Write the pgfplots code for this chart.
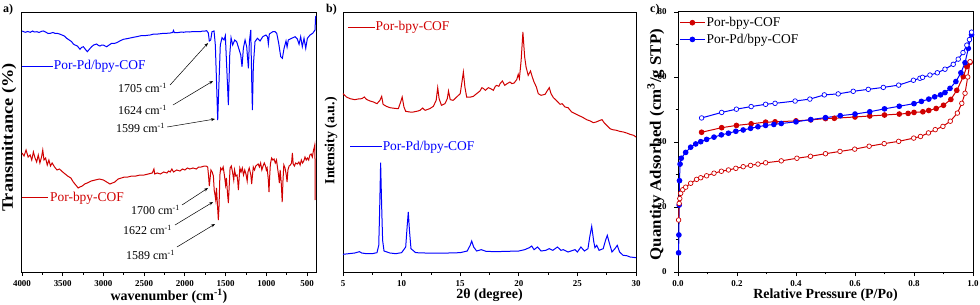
\documentclass[border=0pt]{standalone}
\usepackage{fontspec}
\setmainfont{Liberation Serif}
\usepackage{graphicx}
\usepackage{pgfplots}
\pgfplotsset{compat=1.18}
\usetikzlibrary{arrows.meta}
\definecolor{cred}{RGB}{208,0,0}
\definecolor{cblue}{RGB}{0,0,255}
\pgfplotsset{
  panel/.style={
    scale only axis, anchor=center, height=260bp,
    axis line style={line width=1bp, black},
    tick align=outside, major tick length=4bp, minor tick length=2.5bp,
    tick style={line width=0.8bp, black},
    xtick pos=bottom, ytick pos=left,
    /pgf/number format/assume math mode=true,
    ticklabel style={font=\bfseries\fontsize{9}{10}\selectfont},
    xticklabel style={/pgf/number format/set thousands separator={}, yshift=-3bp, inner sep=1.5bp},
    yticklabel style={xshift=-4bp},
    label style={font=\bfseries\fontsize{14}{16}\selectfont, inner sep=1bp},
    clip=false,
  },
}
\tikzset{
  ann/.style={font=\fontsize{12}{14}\selectfont, inner sep=0pt, anchor=east},
  leg/.style={font=\fontsize{13.5}{15}\selectfont, inner sep=0pt, anchor=west},
  arr/.style={-{Stealth[length=4bp,width=3bp]}, line width=0.5bp, black},
}
\begin{document}
\begin{tikzpicture}[x=1bp,y=1bp]
\useasboundingbox (0bp,0bp) rectangle (980bp,305bp);
\node[anchor=west, inner sep=0pt, font=\bfseries\fontsize{12}{14}\selectfont] at (3bp,295bp) {a)};
\node[anchor=west, inner sep=0pt, font=\bfseries\fontsize{12}{14}\selectfont] at (326bp,295bp) {b)};
\node[anchor=west, inner sep=0pt, font=\bfseries\fontsize{12}{14}\selectfont] at (650bp,295bp) {c)};

% ---------------- panel a ----------------
\begin{axis}[panel, at={(169bp,163bp)}, width=294bp,
  x dir=reverse, xmin=390, xmax=4000, y dir=reverse, ymin=12, ymax=272,
  xtick={500,1000,...,4000}, minor x tick num=1, ytick=\empty,
  xlabel={wavenumber (cm\textsuperscript{-1})},
  xlabel style={at={(axis description cs:0.5,-0.094)}, anchor=center},
  ylabel={\scalebox{1.15}[1]{Transmittance (\%)}},
  ylabel style={at={(axis description cs:-0.044,0.517)}, anchor=center, font=\bfseries\fontsize{16}{18}\selectfont},
]
\addplot[cblue, line width=1bp] coordinates {
(4000,31)(3960,32.3)(3930,31.5)(3898,32.3)(3870,31)(3850,32)(3816,31.7)(3790,32.5)(3760,31.3)(3734,31)
(3700,32.5)(3680,33.5)(3652,33.3)(3620,32.5)(3590,33.5)(3570,33.3)(3540,34)(3509,35)(3480,36)(3451,38.3)
(3420,40)(3390,41.7)(3370,44)(3349,45)(3320,46)(3288,49.3)(3270,47.5)(3247,46.7)(3225,49)(3198,51.7)
(3170,49)(3145,46.7)(3120,45)(3083,44)(3060,45.5)(3042,46)(3020,45)(3001,45)(2980,46)(2960,46.7)
(2930,45)(2899,43.3)(2870,43.5)(2837,42.7)(2800,41)(2755,39.3)(2700,38.5)(2632,37.3)(2580,36.5)(2530,35.5)
(2480,35.5)(2427,35)(2380,34)(2330,34)(2280,33.5)(2222,33.3)(2180,33)(2150,32.5)(2140,30.5)(2130,32.5)
(2080,32.5)(2040,32)(2018,32.3)(1980,31.8)(1940,32)(1900,31.5)(1850,31.5)(1813,31.7)(1780,31)(1750,31)
(1732,30.7)(1712,33)(1700,41)(1683,40)(1667,31.7)(1642,31)(1626,45)(1614,75)(1597,120)(1581,82)
(1565,45)(1544,37.7)(1519,40)(1503,35.7)(1482,75)(1466,105)(1449,55)(1433,37.7)(1413,45)(1388,40)
(1364,41.7)(1339,48.3)(1314,55)(1298,66.7)(1282,48.3)(1261,40)(1241,46.7)(1220,68.3)(1208,41.7)(1191,30)
(1179,81.7)(1171,110)(1159,65)(1139,41.7)(1110,38.3)(1077,41)(1044,36.7)(1004,35)(985,37)(975,44)
(963,34)(921,31.7)(895,31.5)(872,33.3)(848,43.3)(823,56.7)(803,58.3)(782,48.3)(758,41)(745,47)
(730,40)(688,38.3)(647,36.7)(619,39)(598,44.3)(578,36.7)(558,46.7)(537,38.3)(516,48.3)(496,38.3)
(463,35)(430,33.3)(402,30)(395,16.7)(391,16)
};
\addplot[cred, line width=1bp] coordinates {
(4000,153)(3975,156)(3950,150)(3925,157)(3900,155)(3880,160)(3860,152)(3840,158)(3820,162)(3800,155)
(3780,163)(3760,157)(3745,150)(3730,160)(3710,158)(3690,165)(3670,160)(3650,166)(3630,163)(3600,167)
(3570,170)(3540,169)(3500,172)(3470,174)(3440,176)(3400,178)(3370,182)(3340,185)(3310,188)(3290,187)
(3260,186)(3230,184)(3200,183)(3150,181)(3100,180)(3050,179)(3000,180)(2960,182)(2920,184)(2890,183)
(2860,182)(2820,179)(2780,178)(2740,177)(2700,177)(2650,176)(2600,176)(2550,175)(2500,175)(2450,174)
(2400,173)(2380,169)(2370,174)(2340,173)(2300,174)(2260,172)(2220,173)(2200,171)(2180,172)(2160,169)
(2140,172)(2100,170)(2060,171)(2030,169)(2000,170)(1970,168)(1940,169)(1900,168)(1860,169)(1830,167)
(1800,167)(1760,166)(1740,166)(1720,167)(1710,175)(1700,186)(1690,178)(1680,170)(1665,172)(1650,176)
(1640,190)(1630,195)(1621,200)(1612,188)(1600,205)(1589,220)(1580,205)(1570,175)(1560,168)(1545,170)
(1530,167)(1515,175)(1500,185)(1490,178)(1475,195)(1466,203)(1455,185)(1445,168)(1430,166)(1415,172)
(1400,180)(1390,170)(1375,176)(1360,175)(1350,182)(1343,190)(1335,180)(1325,168)(1310,172)(1295,168)
(1280,175)(1265,170)(1250,174)(1235,181)(1225,172)(1210,168)(1190,175)(1180,184)(1170,175)(1160,167)
(1145,170)(1130,166)(1115,165)(1100,164)(1085,167)(1070,163)(1055,170)(1040,166)(1025,163)(1010,166)
(1000,170)(990,168)(975,180)(967,192)(960,178)(950,164)(935,158)(920,160)(905,159)(890,163)
(875,160)(862,168)(850,175)(840,183)(830,170)(815,185)(805,202)(795,180)(785,165)(770,168)
(755,175)(745,182)(735,170)(720,166)(705,165)(690,163)(680,153)(670,164)(655,166)(640,163)
(620,164)(600,162)(585,165)(570,160)(555,163)(540,161)(525,157)(510,160)(495,158)(480,160)
(465,155)(450,154)(435,157)(420,150)(410,147)(405,145)(402,160)(400,200)
};
\draw[cblue, line width=1bp] (axis description cs:0,0.792) -- (axis description cs:0.105,0.792);
\node[leg, text=cblue] at (axis description cs:0.108,0.792) {Por-Pd/bpy-COF};
\draw[cred, line width=1bp] (axis description cs:0,0.285) -- (axis description cs:0.088,0.285);
\node[leg, text=cred] at (axis description cs:0.095,0.285) {Por-bpy-COF};
\node[ann] at (axis cs:2219,88) {1705 cm\textsuperscript{-1}};
\node[ann] at (axis cs:2219,110) {1624 cm\textsuperscript{-1}};
\node[ann] at (axis cs:2244,128) {1599 cm\textsuperscript{-1}};
\node[ann] at (axis cs:2060,210) {1700 cm\textsuperscript{-1}};
\node[ann] at (axis cs:2158,230) {1622 cm\textsuperscript{-1}};
\node[ann] at (axis cs:2121,255) {1589 cm\textsuperscript{-1}};
\draw[arr] (axis cs:2182,85) -- (axis cs:1716,43);
\draw[arr] (axis cs:2146,105) -- (axis cs:1654,81);
\draw[arr] (axis cs:2219,127) -- (axis cs:1630,119);
\draw[arr] (axis cs:2035,205) -- (axis cs:1716,188);
\draw[arr] (axis cs:2121,225) -- (axis cs:1654,202);
\draw[arr] (axis cs:2097,247) -- (axis cs:1630,224);
\end{axis}

% ---------------- panel b ----------------
\begin{axis}[panel, at={(489.5bp,163bp)}, width=293bp,
  xmin=5, xmax=30, y dir=reverse, ymin=35, ymax=815,
  xtick={5,10,...,30}, minor x tick num=1, ytick=\empty,
  xlabel={2θ (degree)},
  xlabel style={at={(axis description cs:0.5,-0.09)}, anchor=center},
  ylabel={Intensity (a.u.)},
  ylabel style={at={(axis description cs:-0.041,0.505)}, anchor=center},
]
\addplot[cred, line width=1bp] coordinates {
(5.0,280)(5.3,290)(5.6,295)(6.0,298)(6.3,296)(6.6,295)(6.82,290)(7.0,297)(7.3,302)(7.6,305)
(7.9,310)(8.15,300)(8.3,288)(8.42,312)(8.7,318)(9.0,322)(9.4,324)(9.72,325)(9.92,305)(10.05,290)
(10.2,320)(10.35,333)(10.7,335)(11.0,335)(11.4,332)(11.57,330)(11.8,323)(12.0,330)(12.4,325)(12.71,318)
(12.95,300)(13.08,262)(13.2,295)(13.4,315)(13.7,310)(13.9,295)(14.0,272)(14.15,298)(14.4,300)(14.7,290)
(15.0,280)(15.15,245)(15.27,215)(15.4,260)(15.55,290)(15.9,290)(16.12,288)(16.4,280)(16.69,272)(16.85,262)
(17.0,265)(17.15,270)(17.4,262)(17.6,265)(17.83,270)(18.0,258)(18.11,255)(18.3,258)(18.4,250)(18.6,242)
(18.8,255)(19.0,250)(19.25,245)(19.4,250)(19.6,248)(19.82,238)(19.95,222)(20.05,235)(20.2,180)(20.35,95)
(20.5,170)(20.62,200)(20.8,225)(21.0,212)(21.15,230)(21.3,245)(21.5,260)(21.66,280)(21.9,285)(22.24,282)
(22.45,270)(22.6,262)(22.75,280)(22.95,292)(23.2,300)(23.52,312)(23.7,310)(23.94,320)(24.2,322)(24.51,335)
(24.8,340)(25.08,345)(25.4,350)(25.79,358)(26.1,362)(26.36,367)(26.6,365)(26.93,360)(27.1,358)(27.3,368)
(27.5,375)(27.78,385)(28.0,388)(28.35,390)(28.6,393)(28.92,395)(29.2,398)(29.49,402)(29.8,405)(30.0,410)
};
\addplot[cblue, line width=1bp] coordinates {
(5.0,762)(5.5,760)(6.0,758)(6.4,754)(6.6,758)(7.0,760)(7.5,760)(7.9,757)(8.05,735)(8.12,640)
(8.21,487)(8.30,620)(8.38,720)(8.5,752)(9.0,758)(9.5,760)(10.0,757)(10.35,740)(10.47,680)(10.57,635)
(10.67,690)(10.8,745)(11.2,757)(12,758)(13,758)(14,758)(15,757)(15.6,752)(15.85,735)(15.98,722)
(16.15,740)(16.4,752)(16.8,748)(17.2,753)(18,754)(19,753)(20,752)(20.5,748)(20.9,742)(21.1,737)
(21.3,748)(21.6,740)(21.9,752)(22.3,750)(22.6,745)(22.9,750)(23.3,740)(23.6,750)(23.8,748)(24.2,755)
(24.8,748)(25.0,755)(25.3,740)(25.6,752)(25.9,745)(26.05,710)(26.22,678)(26.4,725)(26.5,742)(26.65,735)
(26.85,750)(27.2,745)(27.4,720)(27.55,705)(27.7,725)(27.95,755)(28.2,745)(28.4,735)(28.6,755)(28.9,765)
(29.2,766)(29.5,770)(30.0,772)
};
\draw[cred, line width=1bp] (axis description cs:0.017,0.942) -- (axis description cs:0.109,0.942);
\node[leg, text=cred] at (axis description cs:0.111,0.942) {Por-bpy-COF};
\draw[cblue, line width=1bp] (axis description cs:0.024,0.481) -- (axis description cs:0.133,0.481);
\node[leg, text=cblue] at (axis description cs:0.135,0.481) {Por-Pd/bpy-COF};
\end{axis}

% ---------------- panel c ----------------
\begin{axis}[panel, at={(825.5bp,163bp)}, width=295bp,
  xmin=0, xmax=1, ymin=0, ymax=80,
  xtick={0,0.2,...,1.0}, minor x tick num=1, ytick={0,20,...,80}, minor y tick num=1,
  xticklabel style={/pgf/number format/.cd, fixed, fixed zerofill, precision=1},
  xlabel={Relative Pressure (P/Po)},
  xlabel style={at={(axis description cs:0.5,-0.09)}, anchor=center},
  ylabel={\scalebox{1.06}[1]{Quantity Adsorbed (cm\textsuperscript{3}/g STP)}},
  ylabel style={at={(axis description cs:-0.075,0.49)}, anchor=center, font=\bfseries\fontsize{16}{18}\selectfont},
  legend style={at={(axis description cs:0.004,0.985)}, anchor=north west, draw=none, fill=none,
    font=\fontsize{13.5}{15}\selectfont, inner sep=0pt, row sep=3.5bp, nodes={inner sep=1.2bp}},
  legend cell align=left,
  legend image code/.code={\draw[mark repeat=2,mark phase=2,#1] plot coordinates {(0bp,0bp) (12.5bp,0bp) (25bp,0bp)};},
]
\addplot[cred, line width=1bp, mark=*, mark size=2.3bp] coordinates {
(0.080,43.0)(0.148,44.4)(0.198,45.1)(0.248,45.6)(0.297,46.1)(0.329,46.2)(0.40,46.5)(0.45,46.8)(0.50,47.2)(0.53,47.3)
(0.60,47.7)(0.65,48.0)(0.70,48.3)(0.75,48.6)(0.78,48.8)(0.80,49.1)(0.83,49.3)(0.85,49.7)(0.875,50.3)(0.90,51.3)
(0.925,53.1)(0.945,55.9)(0.967,60.1)(0.979,63.2)(0.990,64.5)
};
\addlegendentry{Por-bpy-COF}
\addplot[cblue, line width=1bp, mark=*, mark size=2.3bp] coordinates {
(0.002,5.9)(0.003,11.4)(0.004,20.6)(0.005,28.1)(0.007,33.2)(0.011,35.0)(0.026,36.8)(0.043,38.4)(0.06,39.4)(0.077,40.1)
(0.097,40.8)(0.122,41.5)(0.147,42.2)(0.171,42.7)(0.196,43.3)(0.221,43.7)(0.246,44.2)(0.271,44.7)(0.297,45.1)(0.325,45.4)
(0.35,45.7)(0.40,46.2)(0.45,46.9)(0.50,47.5)(0.55,48.1)(0.60,48.6)(0.65,49.3)(0.70,50.2)(0.75,51.0)(0.80,51.8)
(0.825,52.5)(0.85,53.2)(0.87,53.9)(0.89,54.5)(0.905,55.2)(0.922,56.5)(0.942,58.6)(0.959,61.3)(0.973,64.4)(0.984,68.8)
(0.995,73.0)
};
\addlegendentry{Por-Pd/bpy-COF}
\addplot[cred, line width=1bp, mark=*, mark size=2.3bp, mark options={fill=white, line width=0.7bp}, forget plot] coordinates {
(0.002,16.0)(0.004,21.1)(0.006,22.6)(0.009,24.2)(0.016,25.3)(0.026,26.1)(0.043,27.3)(0.063,28.5)(0.077,29.0)(0.097,29.6)
(0.122,30.4)(0.147,31.0)(0.171,31.4)(0.196,31.9)(0.221,32.4)(0.246,32.8)(0.271,33.2)(0.297,33.6)(0.35,34.2)(0.403,35.0)
(0.449,35.6)(0.50,36.4)(0.549,37.1)(0.599,37.8)(0.648,38.7)(0.699,39.5)(0.748,40.2)(0.799,41.2)(0.822,41.7)(0.849,42.8)
(0.872,43.8)(0.898,44.8)(0.923,46.4)(0.947,48.9)(0.962,51.9)(0.973,55.0)(0.982,60.0)(0.990,64.7)
};
\addplot[cblue, line width=1bp, mark=*, mark size=2.3bp, mark options={fill=white, line width=0.7bp}, forget plot] coordinates {
(0.080,47.4)(0.148,49.1)(0.198,50.1)(0.248,50.9)(0.297,51.6)(0.329,51.9)(0.397,52.6)(0.447,53.2)(0.496,54.5)(0.543,54.8)
(0.594,55.6)(0.645,56.2)(0.696,56.8)(0.748,57.5)(0.798,59.0)(0.82,59.6)(0.829,59.9)(0.854,60.6)(0.879,61.3)(0.905,62.4)
(0.933,63.9)(0.95,65.5)(0.966,67.5)(0.979,69.8)(0.988,71.5)(0.995,73.8)
};
\end{axis}
\end{tikzpicture}
\end{document}
